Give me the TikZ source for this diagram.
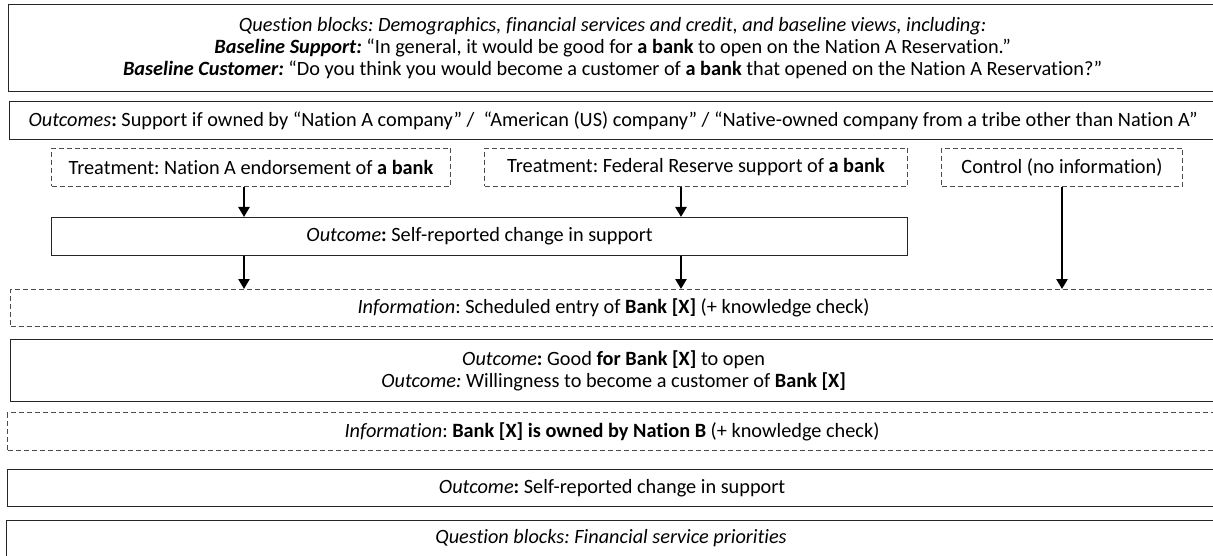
\documentclass[tikz,border=0pt]{standalone}
\usepackage{fontspec}
\setmainfont{Carlito}[Ligatures=NoCommon]
\frenchspacing
\usetikzlibrary{arrows.meta}
\tikzset{
  solidbox/.style={draw=black!85, line width=1.3pt, anchor=north west, inner sep=0pt, align=center},
  dashbox/.style={draw=black!70, line width=1pt, dash pattern=on 5pt off 3pt, anchor=north west, inner sep=0pt, align=center},
  flow/.style={line width=2.8pt, -{Triangle[length=10pt, width=11pt]}},
}

\begin{document}
\begin{tikzpicture}[x=1pt, y=-1pt, font=\fontsize{20.3}{22}\selectfont]
\useasboundingbox (0,0) rectangle (1213,556);
\clip (0,0) rectangle (1213,556);

% opening questions
\node[solidbox, minimum width=1208pt, minimum height=87pt] (base) at (8,4)
  {\textit{Question blocks: Demographics, financial services and credit, and baseline views, including:}\\
   \textbf{\textit{Baseline Support:}} ``In general, it would be good for \textbf{a bank} to open on the Nation A Reservation.''\\
   \textbf{\textit{Baseline Customer:}} ``Do you think you would become a customer of \textbf{a bank} that opened on the Nation A Reservation?''};

\node[solidbox, minimum width=1207pt, minimum height=38pt] (owners) at (9,101)
  {\textit{Outcomes}\textbf{:} Support if owned by ``Nation A company'' /\ \ ``American (US) company'' / ``Native-owned company from a tribe other than Nation A''};

% the three arms
\node[dashbox, minimum width=399pt, minimum height=38pt] (tnation) at (51,148)
  {Treatment: Nation A endorsement of \textbf{a bank}};
\node[dashbox, minimum width=423pt, minimum height=38pt] (tfed) at (484,148)
  {Treatment: Federal Reserve support of \textbf{a bank}};
\node[dashbox, minimum width=241pt, minimum height=38pt] (control) at (941,148)
  {Control (no information)};

\node[solidbox, minimum width=856pt, minimum height=38pt] (change) at (51,217)
  {\textit{Outcome}\textbf{:} Self-reported change in support};

% information and outcomes
\node[dashbox, minimum width=1206pt, minimum height=37pt] (entry) at (10,289)
  {\textit{Information}: Scheduled entry of \textbf{Bank [X]} (+ knowledge check)};

\node[solidbox, minimum width=1206pt, minimum height=62pt] (goodfor) at (10,339)
  {\textit{Outcome}\textbf{:} Good \textbf{for Bank [X]} to open\\
   \textit{Outcome:} Willingness to become a customer of \textbf{Bank [X]}};

\node[dashbox, minimum width=1209pt, minimum height=38pt] (owned) at (7,412)
  {\textit{Information}: \textbf{Bank [X] is owned by Nation B} (+ knowledge check)};

\node[solidbox, minimum width=1209pt, minimum height=37pt] (change2) at (7,469)
  {\textit{Outcome}\textbf{:} Self-reported change in support};

\node[solidbox, minimum width=1210pt, minimum height=60pt, anchor=north west] (priority) at (6,520) {};
\node (prioritytext) at (611,538) {\textit{Question blocks: Financial service priorities}};

% arrows
\draw[flow] ([xshift=-7pt]tnation.south) -- ([xshift=-7pt]tnation.south |- change.north);
\draw[flow] ([xshift=-15pt]tfed.south) -- ([xshift=-15pt]tfed.south |- change.north);
\draw[flow] ([xshift=-7pt]tnation.south |- change.south) -- ([xshift=-7pt]tnation.south |- entry.north);
\draw[flow] ([xshift=-15pt]tfed.south |- change.south) -- ([xshift=-15pt]tfed.south |- entry.north);
\draw[flow] (control.south) -- (control.south |- entry.north);

\end{tikzpicture}
\end{document}
